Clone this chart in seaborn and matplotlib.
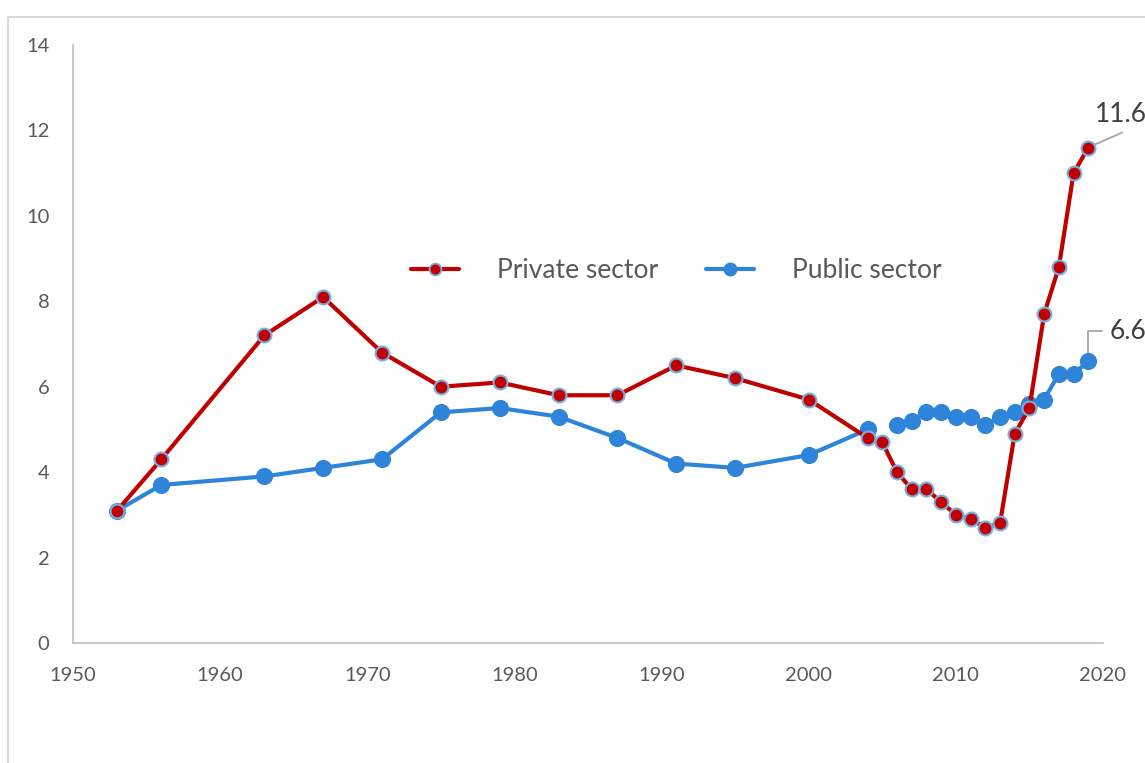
import numpy as np
import pandas as pd
import matplotlib
matplotlib.use("Agg")
import matplotlib.pyplot as plt
from matplotlib.lines import Line2D
import seaborn as sns

# Survey years
years = [1953, 1956, 1963, 1967, 1971, 1975, 1979, 1983, 1987, 1991, 1995, 2000,
         2004, 2005, 2006, 2007, 2008, 2009, 2010, 2011, 2012, 2013, 2014, 2015,
         2016, 2017, 2018, 2019]

private_sector = [3.1, 4.3, 7.2, 8.1, 6.8, 6.0, 6.1, 5.8, 5.8, 6.5, 6.2, 5.7,
                  4.8, 4.7, 4.0, 3.6, 3.6, 3.3, 3.0, 2.9, 2.7, 2.8, 4.9, 5.5,
                  7.7, 8.8, 11.0, 11.6]

# No public-sector observation for 2005
public_sector = [3.1, 3.7, 3.9, 4.1, 4.3, 5.4, 5.5, 5.3, 4.8, 4.2, 4.1, 4.4,
                 5.0, np.nan, 5.1, 5.2, 5.4, 5.4, 5.3, 5.3, 5.1, 5.3, 5.4, 5.6,
                 5.7, 6.3, 6.3, 6.6]

x_ticks = [1950, 1960, 1970, 1980, 1990, 2000, 2010, 2020]
y_ticks = [0, 2, 4, 6, 8, 10, 12, 14]

RED = "#C00000"
BLUE = "#2E84D9"
EDGE = "#79AEE0"
GREY_TXT = "#595959"
GREY_LINE = "#BFBFBF"

sns.set_theme(style="white")
plt.rcParams["font.family"] = ["Lato", "DejaVu Sans"]

fig = plt.figure(figsize=(11.45, 7.63), dpi=100)
ax = fig.add_axes([73 / 1145, 1 - 643 / 763, (1103 - 73) / 1145, (643 - 45) / 763])

# Chart-area frame (left and top edges)
fig.add_artist(Line2D([8 / 1145, 8 / 1145], [0, 1 - 17 / 763], transform=fig.transFigure,
                      color="#D9D9D9", lw=1.5))
fig.add_artist(Line2D([8 / 1145, 1], [1 - 17 / 763, 1 - 17 / 763], transform=fig.transFigure,
                      color="#D9D9D9", lw=1.5))

df = pd.DataFrame({"year": years, "Private sector": private_sector,
                   "Public sector": public_sector})

# Public sector: separate contiguous segments so the 2005 gap stays open
pub = df[["year", "Public sector"]].copy()
pub["segment"] = pub["Public sector"].isna().cumsum()
pub = pub.dropna()
for seg, part in pub.groupby("segment"):
    sns.lineplot(data=part, x="year", y="Public sector", ax=ax, color=BLUE,
                 lw=3, marker="o", markersize=11.5, markeredgecolor=BLUE,
                 markeredgewidth=0.8, estimator=None, sort=False, zorder=3)

sns.lineplot(data=df, x="year", y="Private sector", ax=ax, color=RED,
             lw=3, marker="o", markersize=10, markeredgecolor=EDGE,
             markeredgewidth=1.5, estimator=None, sort=False, zorder=4)

ax.set_xlim(1950, 2020)
ax.set_ylim(0, 14)
ax.set_xticks(x_ticks)
ax.set_yticks(y_ticks)
ax.set_xlabel("")
ax.set_ylabel("")
ax.tick_params(axis="both", length=0, labelsize=14.5, labelcolor=GREY_TXT)
ax.tick_params(axis="x", pad=17.5)
ax.tick_params(axis="y", pad=17)
for side in ["top", "right"]:
    ax.spines[side].set_visible(False)
for side in ["left", "bottom"]:
    ax.spines[side].set_color(GREY_LINE)
    ax.spines[side].set_linewidth(1.2)
ax.grid(False)

# End-point value labels with leader lines
last_x = years[-1]
p_last = private_sector[-1]
u_last = public_sector[-1]
ax.plot([last_x, last_x + 2.3], [p_last, p_last + 0.35], color="#A6A6A6", lw=1.3,
        zorder=2, clip_on=False)
ax.text(last_x + 0.45, p_last + 0.48, f"{p_last:.1f}", fontsize=19, color="#404040",
        ha="left", va="bottom", clip_on=False)
ax.plot([last_x, last_x, last_x + 0.95], [u_last, u_last + 0.7, u_last + 0.7],
        color="#A6A6A6", lw=1.3, zorder=2, clip_on=False)
ax.text(last_x + 1.45, u_last + 0.7, f"{u_last:.1f}", fontsize=19, color="#404040",
        ha="left", va="center", clip_on=False)

handles = [
    Line2D([], [], color=RED, lw=3, marker="o", markersize=8.5, markerfacecolor=RED,
           markeredgecolor=EDGE, markeredgewidth=1.3),
    Line2D([], [], color=BLUE, lw=3, marker="o", markersize=9, markerfacecolor=BLUE,
           markeredgecolor=BLUE),
]
ax.legend(handles, ["Private sector", "Public sector"], ncol=2, frameon=False,
          loc="center", bbox_to_anchor=(676 / 1145, 1 - 271 / 763),
          bbox_transform=fig.transFigure, fontsize=19, labelcolor=GREY_TXT,
          handlelength=1.82, handletextpad=1.44, columnspacing=1.82)

fig.savefig("out.png", dpi=100)
